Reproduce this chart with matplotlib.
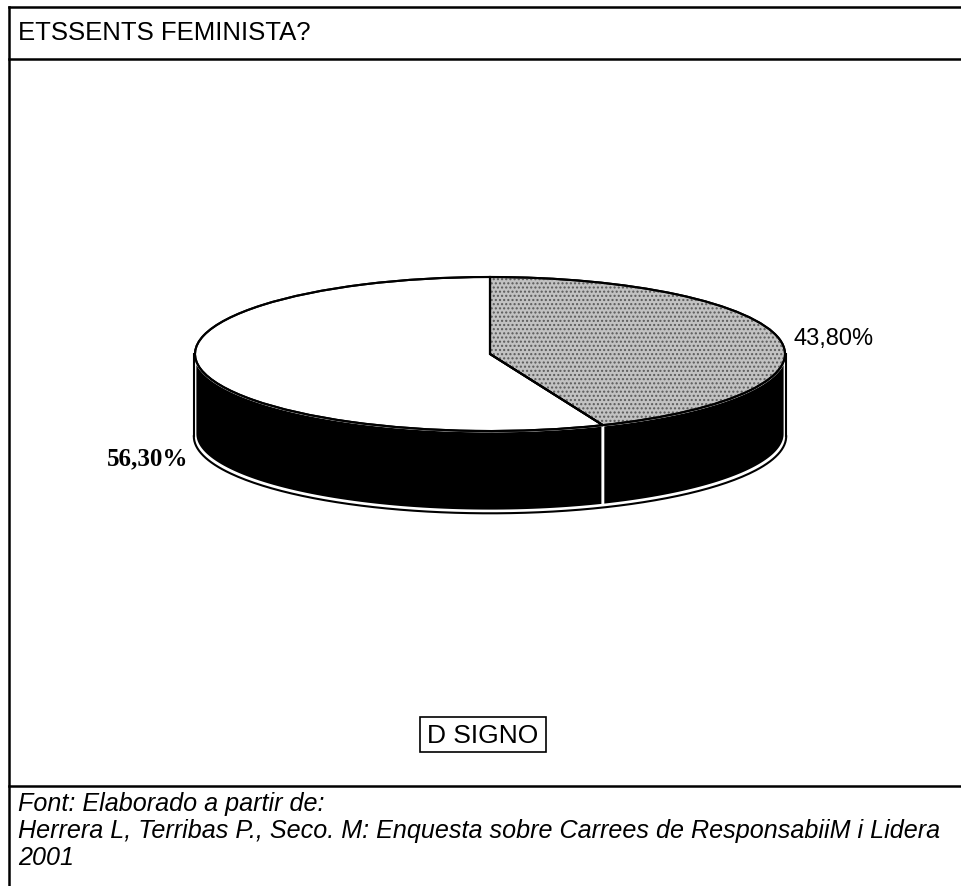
import numpy as np
import matplotlib.pyplot as plt
from matplotlib.patches import Polygon, Rectangle, PathPatch

# data
categories = ['SI', 'NO']
values = [43.8, 56.3]
slice_colors = ['#c2c2c2', 'white']
title = 'ETSSENTS FEMINISTA?'
legend_text = 'D SIGNO'
# second line is cut by the page edge in the scan, kept as far as it is visible
source_lines = ['Font: Elaborado a partir de:',
                'Herrera L, Terribas P., Seco. M: Enquesta sobre Carrees de ResponsabiiM i Lidera',
                '2001']

W, H = 961, 887
fig = plt.figure(figsize=(W / 100, H / 100), dpi=100)

# full-figure axes in pixel coords for the frame and texts
bg = fig.add_axes([0, 0, 1, 1])
bg.set_xlim(0, W)
bg.set_ylim(H, 0)
bg.axis('off')

lw = 1.8
bg.plot([9, 9], [8, H], color='black', lw=lw)
bg.plot([9, W], [8, 8], color='black', lw=lw)
bg.plot([9, W], [60, 60], color='black', lw=lw)
bg.plot([9, W], [787, 787], color='black', lw=lw)

bg.text(18, 33, title, fontsize=18.5, family='Liberation Sans', va='center', ha='left')

# legend box
bg.add_patch(Rectangle((420, 718), 126, 35, fill=False, edgecolor='black', lw=1.2))
bg.text(483, 736, legend_text, fontsize=19, family='Liberation Sans', va='center', ha='center')

for txt, y in zip(source_lines, [811, 838, 865]):
    bg.text(18, y, txt, fontsize=18.1, family='Liberation Sans', style='italic',
            va='baseline', ha='left')

# pie axes: ellipse centre at pixel (490, 355), rx 295 px, ry 77 px, wall 80 px deep
cx, cy, rx, ry, depth_px = 490, 355, 295, 77, 80
px0, px1, py0, py1 = 150, 830, 250, 540
ax = fig.add_axes([px0 / W, 1 - py1 / H, (px1 - px0) / W, (py1 - py0) / H])
wedges, _ = ax.pie(values, colors=slice_colors, startangle=90, counterclock=False,
                   radius=1, center=(0, 0),
                   wedgeprops=dict(edgecolor='black', linewidth=1.5))
ax.set_aspect('auto')
ax.set_xlim((px0 - cx) / rx, (px1 - cx) / rx)
ax.set_ylim((cy - py1) / ry, (cy - py0) / ry)
ax.axis('off')

# stipple on the grey slice, then outlines on top
ax.add_patch(PathPatch(wedges[0].get_path(), fill=False, hatch='....',
                       edgecolor='#5a5a5a', lw=0, zorder=2))
for w in wedges:
    ax.add_patch(PathPatch(w.get_path(), fill=False, edgecolor='black', lw=1.5, zorder=3))

depth = depth_px / ry

# side wall of the front half, one piece per slice
for w in wedges:
    for k in (-360, 0, 360):
        a = max(w.theta1 + k, -180)
        b = min(w.theta2 + k, 0)
        if b <= a:
            continue
        t = np.radians(np.linspace(a, b, 80))
        xs = np.concatenate([np.cos(t), np.cos(t[::-1])])
        ys = np.concatenate([np.sin(t), np.sin(t[::-1]) - depth])
        ax.add_patch(Polygon(np.column_stack([xs, ys]), closed=True, facecolor='black',
                             edgecolor='white', lw=2, zorder=0.5))

# outer outline of the wall
t = np.radians(np.linspace(-180, 0, 200))
ax.plot(np.cos(t) * 1.004, np.sin(t) - depth - 0.03, color='black', lw=1.5, zorder=0.6)
ax.plot([-1.004, -1.004], [0, -depth - 0.03], color='black', lw=1.5, zorder=0.6)
ax.plot([1.004, 1.004], [0, -depth - 0.03], color='black', lw=1.5, zorder=0.6)

# percentage labels
labels = [f'{v:.2f}%'.replace('.', ',') for v in values]
bg.text(793, 339, labels[0], fontsize=17, family='Liberation Sans', va='center', ha='left')
bg.text(188, 459, labels[1], fontsize=18, family='Liberation Serif', weight='bold',
        va='center', ha='right')

fig.savefig('out.png', dpi=100)
